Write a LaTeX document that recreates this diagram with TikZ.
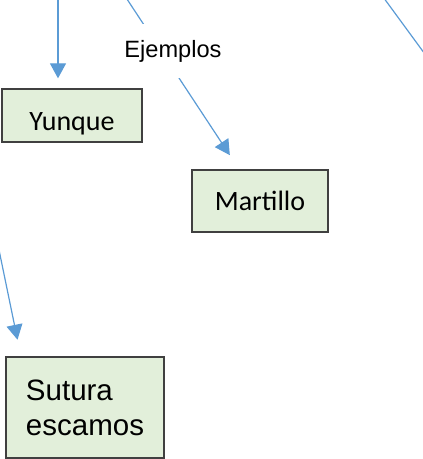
\documentclass[tikz,border=0pt]{standalone}
\usepackage{fontspec}
\usetikzlibrary{arrows.meta}
\newfontfamily\calibri{Carlito}
\newfontfamily\arial{Liberation Sans}
\definecolor{cajafondo}{HTML}{E2EFDA}
\definecolor{cajaborde}{HTML}{404040}
\definecolor{azulflecha}{HTML}{5B9BD5}
\tikzset{
    caja/.style={draw=cajaborde, fill=cajafondo, line width=1.3pt, inner sep=0pt},
    conector/.style={color=azulflecha, line width=1.2pt},
    flecha/.style={-{Triangle[width=16pt,length=15pt]}}
}
\begin{document}
\begin{tikzpicture}[x=1pt,y=-1pt]
    \useasboundingbox (0,0) rectangle (423,459);

    % cajas
    \begin{scope}[font=\calibri\fontsize{28}{34}\selectfont]
    \node [caja, minimum width=140pt, minimum height=53pt, text height=34pt, text depth=5pt] (yunque) at (72,115.5) {Yunque\hspace{10pt}};
    \node [caja, minimum width=136pt, minimum height=62pt] (martillo) at (260,201) {Martillo};
    \end{scope}
    \node [caja, font=\arial\fontsize{29.5}{35}\selectfont, align=left, minimum width=158pt, minimum height=101pt] (sutura) at (85,407.5) {Sutura\\escamos};

    % extremos libres
    \coordinate (yunqueorigen) at (58,-5);
    \coordinate (ejemplosorigen) at (121,-10);
    \coordinate (suturaorigen) at (-2,245);
    \coordinate (lejosA) at (378,-10);
    \coordinate (lejosB) at (430,61);

    \draw [conector, flecha, shorten >=10pt] (yunqueorigen) -- (yunqueorigen |- yunque.north);
    \draw [conector, flecha, shorten >=17pt] (ejemplosorigen) -- (martillo);
    \draw [conector, flecha, shorten >=17pt] (suturaorigen) -- ([xshift=15.6pt]sutura.north west);
    \draw [conector] (lejosA) -- (lejosB);

    \node [fill=white, font=\arial\fontsize{23.6}{28}\selectfont, minimum height=54pt, inner xsep=2pt] (ejemplos) at (173,51) {Ejemplos};
\end{tikzpicture}
\end{document}
